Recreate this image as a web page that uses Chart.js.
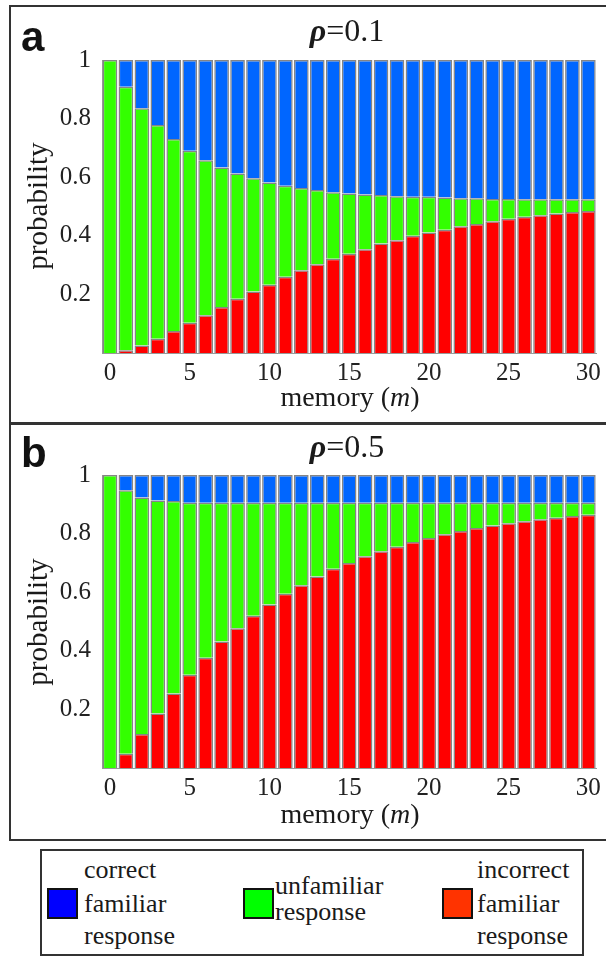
<!DOCTYPE html>
<html>
<head>
<meta charset="utf-8">
<script src="https://cdn.jsdelivr.net/npm/chart.js@4/dist/chart.umd.min.js"></script>
<style>
  html, body { margin: 0; padding: 0; background: #fff; }
  body { width: 606px; height: 956px; position: relative; overflow: hidden; }
  .frame { position: absolute; border: 2px solid #333; box-sizing: border-box; }
  canvas { position: absolute; }
  .txt { position: absolute; white-space: nowrap; line-height: 1; transform: translate(-50%, -50%);
         font-family: "Liberation Serif", "Times New Roman", Times, "DejaVu Serif", serif; color: #1a1a1a; }
  .letter { position: absolute; line-height: 1; font-family: "Liberation Sans", Arial, sans-serif;
            font-weight: bold; font-size: 42px; color: #111; }
  .leg { position: absolute; font-family: "Liberation Serif", "Times New Roman", Times, "DejaVu Serif", serif;
         font-size: 26px; line-height: 1; color: #1a1a1a; white-space: nowrap; }
  .sw { position: absolute; width: 31px; height: 31px; box-sizing: border-box; border: 2px solid #111; }
</style>
</head>
<body>
<div class="frame" style="left:9px; top:5px; width:640px; height:420px;"></div>
<div class="frame" style="left:9px; top:422px; width:640px; height:419px;"></div>

<canvas id="chartA" width="596" height="416" style="left:10px; top:6px;"></canvas>
<canvas id="chartB" width="596" height="416" style="left:10px; top:421px;"></canvas>

<div class="letter" style="left:21px; top:16px;">a</div>
<div class="txt" style="left:347px; top:30px; font-size:32px;"><b><i>ρ</i></b>=0.1</div>
<div class="txt" style="left:37px; top:206px; font-size:29px; transform: translate(-50%, -50%) rotate(-90deg);">probability</div>
<div class="txt" style="left:350px; top:397px; font-size:28px;">memory (<i>m</i>)</div>

<div class="letter" style="left:21px; top:432px;">b</div>
<div class="txt" style="left:347px; top:446px; font-size:32px;"><b><i>ρ</i></b>=0.5</div>
<div class="txt" style="left:37px; top:622px; font-size:29px; transform: translate(-50%, -50%) rotate(-90deg);">probability</div>
<div class="txt" style="left:350px; top:814px; font-size:28px;">memory (<i>m</i>)</div>

<div class="frame" style="left:40px; top:849px; width:544px; height:107px;"></div>
<div class="sw" style="left:47px; top:888px; background:#0000ff;"></div>
<div class="leg" style="left:84px; top:857px;">correct</div>
<div class="leg" style="left:84px; top:891px;">familiar</div>
<div class="leg" style="left:84px; top:923px;">response</div>
<div class="sw" style="left:243px; top:888px; background:#00ff00;"></div>
<div class="leg" style="left:275px; top:873px;">unfamiliar</div>
<div class="leg" style="left:275px; top:899px;">response</div>
<div class="sw" style="left:442px; top:888px; background:#ff3300;"></div>
<div class="leg" style="left:477px; top:857px;">incorrect</div>
<div class="leg" style="left:477px; top:891px;">familiar</div>
<div class="leg" style="left:477px; top:923px;">response</div>

<script>
const memory = [0,1,2,3,4,5,6,7,8,9,10,11,12,13,14,15,16,17,18,19,20,21,22,23,24,25,26,27,28,29,30];

// panel a, rho = 0.1
const incorrectA = [0, 0.009, 0.026, 0.049, 0.075, 0.103, 0.129, 0.157, 0.185, 0.210, 0.233,
  0.260, 0.282, 0.303, 0.322, 0.339, 0.354, 0.374, 0.385, 0.400, 0.411,
  0.421, 0.433, 0.440, 0.450, 0.458, 0.465, 0.470, 0.476, 0.481, 0.485];
const unfamiliarA = [1, 0.900, 0.809, 0.729, 0.655, 0.587, 0.529, 0.476, 0.428, 0.386, 0.349,
  0.311, 0.281, 0.253, 0.227, 0.205, 0.187, 0.165, 0.150, 0.133, 0.122,
  0.110, 0.095, 0.088, 0.076, 0.068, 0.060, 0.055, 0.049, 0.044, 0.040];
const correctA = [0, 0.091, 0.165, 0.222, 0.270, 0.310, 0.342, 0.367, 0.387, 0.404, 0.418,
  0.429, 0.437, 0.444, 0.451, 0.456, 0.459, 0.461, 0.465, 0.467, 0.467,
  0.469, 0.472, 0.472, 0.474, 0.474, 0.475, 0.475, 0.475, 0.475, 0.475];

// panel b, rho = 0.5
const incorrectB = [0, 0.049, 0.116, 0.186, 0.254, 0.318, 0.376, 0.432, 0.477, 0.520, 0.558,
  0.595, 0.624, 0.654, 0.680, 0.700, 0.723, 0.740, 0.755, 0.771, 0.785,
  0.798, 0.809, 0.819, 0.828, 0.835, 0.842, 0.849, 0.854, 0.860, 0.864];
const unfamiliarB = [1, 0.899, 0.807, 0.727, 0.657, 0.587, 0.529, 0.473, 0.428, 0.385, 0.347,
  0.310, 0.281, 0.251, 0.225, 0.205, 0.182, 0.165, 0.150, 0.134, 0.120,
  0.107, 0.096, 0.086, 0.077, 0.070, 0.063, 0.056, 0.051, 0.045, 0.041];
const correctB = [0, 0.052, 0.077, 0.087, 0.089, 0.095, 0.095, 0.095, 0.095, 0.095, 0.095,
  0.095, 0.095, 0.095, 0.095, 0.095, 0.095, 0.095, 0.095, 0.095, 0.095,
  0.095, 0.095, 0.095, 0.095, 0.095, 0.095, 0.095, 0.095, 0.095, 0.095];

const yTicks = ['', '0.2', '0.4', '0.6', '0.8', '1'];

const RED = '#ff0000', GREEN = '#33ff00', BLUE = '#0066ff';
const SERIF = "'Liberation Serif', 'Times New Roman', Times, 'DejaVu Serif', serif";

function makePanel(id, incorrect, unfamiliar, correct) {
  const ctx = document.getElementById(id).getContext('2d');
  const bar = (label, data, color) => ({
    label, data, backgroundColor: color,
    borderColor: '#858585', borderWidth: 1.5,
    barPercentage: 0.92, categoryPercentage: 1
  });
  return new Chart(ctx, {
    type: 'bar',
    data: {
      labels: memory,
      datasets: [
        bar('incorrect familiar response', incorrect, RED),
        bar('unfamiliar response', unfamiliar, GREEN),
        bar('correct familiar response', correct, BLUE)
      ]
    },
    options: {
      responsive: false,
      animation: false,
      events: [],
      layout: { padding: { top: 54, right: 9, left: 0, bottom: 0 } },
      plugins: { legend: { display: false }, tooltip: { enabled: false } },
      scales: {
        x: {
          stacked: true,
          grid: { display: false, drawTicks: false },
          border: { color: '#999', width: 1 },
          ticks: {
            autoSkip: false, maxRotation: 0, padding: 5, color: '#222',
            font: { family: SERIF, size: 25 },
            callback: (v, i) => (i % 5 === 0 ? String(memory[i]) : '')
          },
          afterFit: s => { s.height = 69; }
        },
        y: {
          stacked: true, min: 0, max: 1,
          grid: { display: false, drawTicks: false },
          border: { color: '#999', width: 1 },
          ticks: {
            stepSize: 0.2, padding: 11, color: '#222',
            font: { family: SERIF, size: 25 },
            callback: (v, i) => yTicks[i]
          },
          afterFit: s => { s.width = 92; }
        }
      }
    }
  });
}

makePanel('chartA', incorrectA, unfamiliarA, correctA);
makePanel('chartB', incorrectB, unfamiliarB, correctB);
</script>
</body>
</html>
